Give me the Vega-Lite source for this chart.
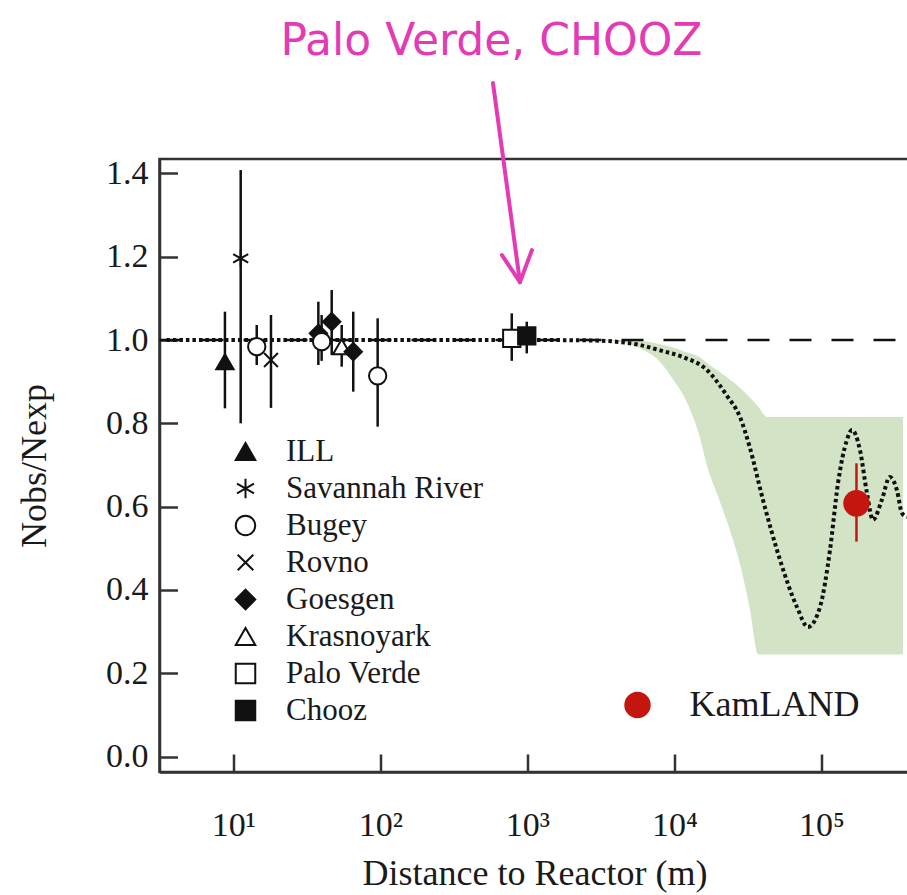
{
  "$schema": "https://vega.github.io/schema/vega-lite/v6.json",
  "width": 750,
  "height": 613,
  "autosize": {"type": "none"},
  "padding": {"left": 159.5, "top": 159, "right": 0, "bottom": 123},
  "background": "white",
  "title": {
    "text": "Palo Verde, CHOOZ",
    "color": "#e23bb5",
    "font": "DejaVu Sans",
    "fontSize": 44,
    "fontWeight": "normal",
    "anchor": "middle",
    "frame": "group",
    "dx": -43,
    "dy": 47,
    "baseline": "alphabetic",
    "offset": 29
  },
  "config": {
    "view": {"stroke": "#333", "strokeWidth": 2.5},
    "axis": {
      "grid": false,
      "domainColor": "#333",
      "domainWidth": 2.5,
      "tickColor": "#333",
      "tickWidth": 2.5,
      "tickSize": -18,
      "labelFont": "Liberation Serif",
      "labelFontSize": 34,
      "labelColor": "#1a1a1a",
      "titleFont": "Liberation Serif",
      "titleFontWeight": "normal",
      "titleColor": "#1a1a1a"
    }
  },
  "datasets": {
    "band": [
      {"d": 2661, "lo": 1.0, "hi": 1.0},
      {"d": 4266, "lo": 0.995, "hi": 1.0},
      {"d": 5821, "lo": 0.98, "hi": 0.998},
      {"d": 7943, "lo": 0.948, "hi": 0.99},
      {"d": 9800, "lo": 0.905, "hi": 0.982},
      {"d": 12162, "lo": 0.85, "hi": 0.97},
      {"d": 14791, "lo": 0.77, "hi": 0.959},
      {"d": 16596, "lo": 0.7, "hi": 0.945},
      {"d": 20000, "lo": 0.62, "hi": 0.925},
      {"d": 23988, "lo": 0.54, "hi": 0.904},
      {"d": 28000, "lo": 0.46, "hi": 0.885},
      {"d": 32359, "lo": 0.36, "hi": 0.863},
      {"d": 37154, "lo": 0.245, "hi": 0.84},
      {"d": 42658, "lo": 0.245, "hi": 0.815},
      {"d": 358900, "lo": 0.245, "hi": 0.815}
    ],
    "noOsc": [
      {"d": 3.14, "r": 1.0},
      {"d": 397000, "r": 1.0}
    ],
    "osc": [
      {"d": 3.5, "r": 1.0},
      {"d": 1000, "r": 1.0},
      {"d": 2661, "r": 0.999},
      {"d": 4000, "r": 0.996},
      {"d": 5821, "r": 0.988},
      {"d": 8000, "r": 0.975},
      {"d": 11430, "r": 0.959},
      {"d": 16630, "r": 0.928},
      {"d": 22750, "r": 0.866},
      {"d": 27900, "r": 0.815},
      {"d": 32660, "r": 0.74},
      {"d": 40000, "r": 0.616},
      {"d": 52240, "r": 0.472},
      {"d": 68080, "r": 0.359},
      {"d": 80910, "r": 0.311},
      {"d": 97720, "r": 0.359},
      {"d": 114300, "r": 0.496},
      {"d": 129500, "r": 0.656},
      {"d": 149000, "r": 0.76},
      {"d": 161200, "r": 0.784},
      {"d": 182700, "r": 0.736},
      {"d": 204000, "r": 0.632},
      {"d": 224000, "r": 0.568},
      {"d": 257300, "r": 0.616},
      {"d": 291500, "r": 0.671},
      {"d": 325800, "r": 0.64},
      {"d": 352300, "r": 0.585},
      {"d": 381700, "r": 0.575}
    ],
    "reactors": [
      {"experiment": "ILL", "d": 8.75, "r": 0.948, "lo": 0.836, "hi": 1.068},
      {"experiment": "Savannah River", "d": 11.2, "r": 1.196, "lo": 0.8, "hi": 1.408},
      {"experiment": "Bugey", "d": 14.4, "r": 0.984, "lo": 0.94, "hi": 1.036},
      {"experiment": "Rovno", "d": 18.0, "r": 0.952, "lo": 0.837, "hi": 1.06},
      {"experiment": "Goesgen", "d": 37.8, "r": 1.016, "lo": 0.94, "hi": 1.092},
      {"experiment": "Bugey", "d": 39.8, "r": 0.996, "lo": 0.95, "hi": 1.06},
      {"experiment": "Goesgen", "d": 46.6, "r": 1.044, "lo": 0.964, "hi": 1.12},
      {"experiment": "Krasnoyark", "d": 54.5, "r": 0.984, "lo": 0.936, "hi": 1.036},
      {"experiment": "Goesgen", "d": 65.3, "r": 0.972, "lo": 0.876, "hi": 1.068},
      {"experiment": "Bugey", "d": 95.7, "r": 0.914, "lo": 0.792, "hi": 1.052},
      {"experiment": "Palo Verde", "d": 782, "r": 1.004, "lo": 0.95, "hi": 1.064},
      {"experiment": "Chooz", "d": 989, "r": 1.01, "lo": 0.968, "hi": 1.044}
    ],
    "kamland": [
      {"name": "KamLAND", "d": 173000, "r": 0.608, "lo": 0.516, "hi": 0.704}
    ],
    "arrow": [
      {"part": "shaft", "d": 582.6, "r": 1.617, "d2": 889, "r2": 1.139},
      {"part": "left head", "d": 670.8, "r": 1.204, "d2": 889, "r2": 1.139},
      {"part": "right head", "d": 1073, "r": 1.216, "d2": 889, "r2": 1.139}
    ]
  },
  "encoding": {
    "x": {
      "field": "d",
      "type": "quantitative",
      "scale": {"type": "log", "domain": [3.14, 397000], "nice": false},
      "axis": {
        "values": [10, 100, 1000, 10000, 100000],
        "labelExpr": "'10' + ['⁰','¹','²','³','⁴','⁵','⁶'][round(log(datum.value) / LN10)]",
        "labelPadding": 54,
        "title": "Distance to Reactor (m)",
        "titleFontSize": 36,
        "titlePadding": 14
      }
    },
    "y": {
      "field": "r",
      "type": "quantitative",
      "scale": {"domain": [-0.0372, 1.4346], "nice": false, "zero": false},
      "axis": {
        "values": [0, 0.2, 0.4, 0.6, 0.8, 1.0, 1.2, 1.4],
        "format": ".1f",
        "labelPadding": 29.5,
        "title": "Nobs/Nexp",
        "titleFontSize": 36,
        "titlePadding": 52
      }
    }
  },
  "layer": [
    {
      "data": {"name": "band"},
      "mark": {"type": "area", "color": "#d3e3c6", "interpolate": "monotone"},
      "encoding": {
        "y": {
          "field": "lo",
          "type": "quantitative",
          "scale": {"domain": [-0.0372, 1.4346], "nice": false, "zero": false},
          "axis": {
            "values": [0, 0.2, 0.4, 0.6, 0.8, 1.0, 1.2, 1.4],
            "format": ".1f",
            "labelPadding": 29.5,
            "title": "Nobs/Nexp",
            "titleFontSize": 36,
            "titlePadding": 52
          }
        },
        "y2": {"field": "hi"}
      }
    },
    {
      "data": {"name": "noOsc"},
      "mark": {"type": "line", "color": "#111", "strokeWidth": 2.5, "strokeDash": [22, 20]}
    },
    {
      "data": {"name": "osc"},
      "mark": {"type": "line", "color": "#111", "strokeWidth": 4, "strokeDash": [3.5, 3], "interpolate": "monotone"}
    },
    {
      "data": {"name": "reactors"},
      "mark": {"type": "rule", "color": "#111", "strokeWidth": 2.5},
      "encoding": {
        "y": {
          "field": "lo",
          "type": "quantitative",
          "scale": {"domain": [-0.0372, 1.4346], "nice": false, "zero": false},
          "axis": {
            "values": [0, 0.2, 0.4, 0.6, 0.8, 1.0, 1.2, 1.4],
            "format": ".1f",
            "labelPadding": 29.5,
            "title": "Nobs/Nexp",
            "titleFontSize": 36,
            "titlePadding": 52
          }
        },
        "y2": {"field": "hi"}
      }
    },
    {
      "data": {"name": "reactors"},
      "mark": {"type": "point", "strokeWidth": 2, "size": 300, "opacity": 1},
      "encoding": {
        "shape": {
          "field": "experiment",
          "type": "nominal",
          "scale": {
            "domain": ["ILL", "Savannah River", "Bugey", "Rovno", "Goesgen", "Krasnoyark", "Palo Verde", "Chooz"],
            "range": ["triangle-up", "M0,-1L0,1M-0.87,-0.5L0.87,0.5M-0.87,0.5L0.87,-0.5", "circle", "M-0.8,-0.8L0.8,0.8M-0.8,0.8L0.8,-0.8", "diamond", "triangle-up", "square", "square"]
          },
          "legend": {
            "orient": "none", "legendX": 70.5, "legendY": 277, "title": null, "padding": 0,
            "labelFont": "Liberation Serif", "labelFontSize": 31, "labelColor": "#1a1a1a", "labelLimit": 0,
            "symbolSize": 380, "symbolStrokeWidth": 2,
            "labelOffset": 25, "rowPadding": 5
          }
        },
        "fill": {
          "field": "experiment",
          "type": "nominal",
          "scale": {
            "domain": ["ILL", "Savannah River", "Bugey", "Rovno", "Goesgen", "Krasnoyark", "Palo Verde", "Chooz"],
            "range": ["#111", "transparent", "white", "transparent", "#111", "white", "white", "#111"]
          },
          "legend": {
            "orient": "none", "legendX": 70.5, "legendY": 277, "title": null, "padding": 0,
            "labelFont": "Liberation Serif", "labelFontSize": 31, "labelColor": "#1a1a1a", "labelLimit": 0,
            "symbolSize": 380, "symbolStrokeWidth": 2,
            "labelOffset": 25, "rowPadding": 5
          }
        },
        "stroke": {
          "field": "experiment",
          "type": "nominal",
          "scale": {
            "domain": ["ILL", "Savannah River", "Bugey", "Rovno", "Goesgen", "Krasnoyark", "Palo Verde", "Chooz"],
            "range": ["#111", "#111", "#111", "#111", "#111", "#111", "#111", "#111"]
          },
          "legend": {
            "orient": "none", "legendX": 70.5, "legendY": 277, "title": null, "padding": 0,
            "labelFont": "Liberation Serif", "labelFontSize": 31, "labelColor": "#1a1a1a", "labelLimit": 0,
            "symbolSize": 380, "symbolStrokeWidth": 2,
            "labelOffset": 25, "rowPadding": 5
          }
        }
      }
    },
    {
      "data": {"name": "kamland"},
      "mark": {"type": "rule", "color": "#c4160f", "strokeWidth": 2.5},
      "encoding": {
        "y": {
          "field": "lo",
          "type": "quantitative",
          "scale": {"domain": [-0.0372, 1.4346], "nice": false, "zero": false},
          "axis": {
            "values": [0, 0.2, 0.4, 0.6, 0.8, 1.0, 1.2, 1.4],
            "format": ".1f",
            "labelPadding": 29.5,
            "title": "Nobs/Nexp",
            "titleFontSize": 36,
            "titlePadding": 52
          }
        },
        "y2": {"field": "hi"}
      }
    },
    {
      "data": {"name": "kamland"},
      "mark": {"type": "point", "filled": true, "size": 700, "opacity": 1},
      "encoding": {
        "color": {
          "field": "name",
          "type": "nominal",
          "scale": {"domain": ["KamLAND"], "range": ["#c4160f"]},
          "legend": {
            "orient": "none", "legendX": 460, "legendY": 528, "title": null, "padding": 0,
            "labelFont": "Liberation Serif", "labelFontSize": 36, "labelColor": "#1a1a1a", "labelLimit": 0,
            "symbolSize": 700, "symbolType": "circle", "symbolStrokeWidth": 0, "labelOffset": 34
          }
        }
      }
    },
    {
      "data": {"name": "arrow"},
      "mark": {"type": "rule", "color": "#e23bb5", "strokeWidth": 4, "strokeCap": "round", "clip": false},
      "encoding": {
        "x2": {"field": "d2"},
        "y2": {"field": "r2"}
      }
    }
  ]
}
